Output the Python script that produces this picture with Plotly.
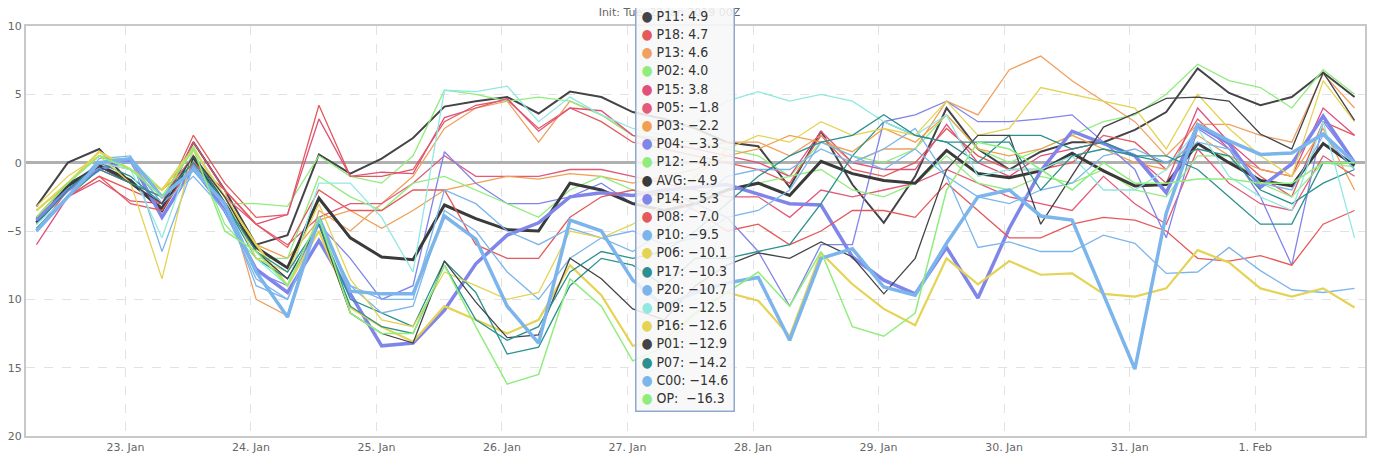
import pandas as pd
import plotly.graph_objects as go

# 6-hourly points, 22 Jan 07Z .. 1 Feb 19Z
times = pd.date_range("2019-01-22 07:00", periods=43, freq="6h")

tick_vals = ["2019-01-23", "2019-01-24", "2019-01-25", "2019-01-26", "2019-01-27",
             "2019-01-28", "2019-01-29", "2019-01-30", "2019-01-31", "2019-02-01"]
tick_text = ["23. Jan", "24. Jan", "25. Jan", "26. Jan", "27. Jan",
             "28. Jan", "29. Jan", "30. Jan", "31. Jan", "1. Feb"]

P11 = [-3.2, 0.0, 1.0, -1.5, -3.3, 1.5, -2.0, -6.0, -5.3, 0.6, -0.8, 0.3, 1.8, 4.1, 4.5, 4.8, 3.6, 5.2, 4.8, 3.7,
       3.2, 2.5, 1.5, 1.2, -1.8, 2.3, -1.6, -4.4, -1.0, 4.0, 1.0, -0.5, 0.8, 1.5, 1.5, 2.4, 3.7, 6.9, 5.1, 4.2, 4.8, 6.6, 4.8]
P18 = [-5.0, -2.5, -1.0, -2.0, -3.0, 2.0, -1.5, -4.0, -3.8, 4.2, -1.0, -1.0, -0.5, 3.0, 4.2, 4.6, 2.5, 4.0, 3.0, 1.5,
       1.0, 0.5, 0.0, -0.5, -1.5, 2.0, -0.5, -1.0, 0.0, 2.5, 0.5, -0.5, -0.5, 0.0, 2.0, 1.5, -0.5, 3.2, 1.0, -1.0, -2.5, 3.0, 2.0]
P13 = [-4.0, -1.5, 0.5, -0.5, -2.0, 0.0, -2.0, -10.0, -11.2, -3.5, -5.0, -3.0, -1.0, 2.5, 4.0, 4.5, 1.5, 4.5, 3.5, 2.0,
       1.5, 1.0, 1.5, 1.5, 0.5, 2.0, 0.0, 1.0, 1.0, 4.5, 3.5, 6.8, 7.8, 6.0, 4.5, 3.0, 0.5, 2.8, 2.8, 2.0, 1.5, 6.5, 4.0]
P02 = [-3.5, -1.5, 0.5, 0.2, -2.0, 1.2, -3.0, -3.0, -3.2, 0.5, -1.0, -1.5, 0.5, 5.3, 5.0, 4.5, 4.8, 4.5, 3.5, 2.0,
       1.8, 1.5, 1.0, 0.5, -1.0, 1.5, 0.5, 0.0, 1.0, 3.5, 1.0, 0.0, 1.0, 2.0, 3.0, 3.5, 5.0, 7.2, 6.0, 5.5, 4.0, 6.8, 5.0]
P15 = [-6.0, -2.5, -1.3, -2.8, -3.0, 1.5, -2.0, -4.5, -3.8, 3.2, -1.0, -0.7, -0.8, 3.3, 4.0, 4.7, 2.3, 4.0, 3.8, 2.0,
       1.5, 1.0, 0.5, 0.0, -1.0, 2.3, 0.0, -0.5, -0.5, 2.8, 0.0, -1.0, 0.5, 1.0, 1.5, 0.5, -1.5, 4.0, 1.5, -0.5, -1.0, 4.0, 2.0]
P05 = [-5.0, -2.0, -0.5, -1.5, -2.5, 0.5, -2.5, -4.5, -6.0, -4.0, -3.0, -3.0, -1.5, 0.5, -1.0, -1.0, -1.0, -0.5, -0.5, -1.0,
       -1.5, -2.0, -2.5, -2.5, -4.0, -2.0, -2.5, -2.0, -1.5, -0.5, -1.5, -2.5, -3.0, -3.5, -1.0, -3.0, -4.5, 1.0, -1.5, -3.0, -3.5, 0.5, -1.0]
P03 = [-4.0, -2.0, 0.0, -0.5, -2.0, 0.0, -3.0, -6.0, -7.0, -4.2, -3.5, -4.8, -3.5, -2.0, -1.5, -1.0, -1.2, -0.8, -1.0, -1.5,
       -1.0, -0.5, 0.5, 1.0, 2.0, 1.5, 0.8, 2.5, 1.5, 3.5, 1.0, 0.5, 1.0, 2.0, 1.0, 0.0, -0.5, 2.0, 0.5, -0.5, -1.0, 2.5, -2.0]
P04 = [-4.5, -2.0, 0.0, 0.0, -3.0, -0.5, -3.5, -8.0, -9.0, -4.5, -7.0, -10.0, -9.0, 0.8, -1.5, -3.0, -3.0, -2.5, -1.5, -3.0,
       -2.0, -3.0, -4.0, -6.5, -10.5, -6.0, -6.0, 3.0, 3.5, 4.5, 3.0, 3.0, 3.2, 3.5, 1.5, -0.5, -5.5, 2.5, 1.0, -2.5, -7.5, 3.0, 0.0]
P12 = [-3.5, -1.5, 0.5, 0.0, -2.5, 1.0, -4.5, -7.0, -7.0, -1.0, -2.5, -3.5, -1.5, -1.0, -2.0, -3.0, -4.0, -2.0, -1.0, -2.0,
       -3.0, -2.5, -2.0, -1.5, -1.0, -0.5, -2.0, -2.5, -1.5, 0.5, -1.5, -2.0, -1.0, -1.5, -0.5, -2.0, -2.5, 0.5, 0.5, -1.5, -2.5, 0.0, -0.3]
AVG = [-4.4, -1.7, -0.2, -1.3, -3.5, 0.4, -3.0, -6.2, -7.7, -2.6, -5.5, -6.9, -7.1, -3.1, -4.1, -4.9, -5.0, -1.5, -2.0, -3.0,
       -3.5, -3.0, -2.0, -1.5, -2.4, 0.1, -0.8, -1.3, -1.5, 0.9, -0.8, -1.1, -0.6, 0.7, -0.6, -1.7, -1.6, 1.4, 0.0, -1.3, -1.7, 1.4, -0.2]
P14 = [-4.2, -2.0, -0.5, 0.2, -4.0, -0.3, -3.5, -7.8, -9.5, -5.7, -9.6, -13.4, -13.2, -10.8, -7.4, -5.3, -4.4, -2.5, -2.2, -2.4,
       -2.0, -1.8, -1.6, -2.3, -3.0, -3.1, -6.9, -8.6, -9.6, -6.2, -9.9, -4.8, -0.6, 2.3, 1.4, 0.5, -2.2, 2.7, 1.4, -1.8, -0.1, 3.4, 0.0]
P08 = [-5.0, -2.5, -1.0, -3.0, -3.5, 0.0, -2.0, -4.5, -6.2, -2.0, -3.5, -3.5, -2.0, -2.0, -6.0, -7.0, -7.0, -4.0, -2.5, -2.0,
       -2.5, -3.5, -5.0, -4.5, -6.0, -5.0, -3.5, -3.5, -4.0, -1.5, -3.5, -5.5, -5.5, -4.5, -4.0, -4.2, -5.0, -7.0, -7.2, -6.8, -7.5, -4.5, -3.5]
P10 = [-5.0, -2.5, 0.3, 0.5, -6.5, -0.3, -3.0, -9.0, -10.0, -4.5, -9.0, -10.0, -10.0, -2.0, -3.0, -5.0, -6.0, -4.8, -5.5, -6.5,
       -5.0, -3.0, -1.0, -0.5, -0.5, 1.0, 0.0, 1.0, 2.5, -1.0, -6.2, -5.8, -6.5, -6.5, -5.3, -5.9, -8.1, -8.0, -6.2, -7.9, -9.3, -9.5, -9.2]
P06 = [-3.5, -1.5, 0.8, -0.5, -2.0, 1.0, -2.5, -6.0, -9.0, -5.0, -10.6, -12.0, -13.1, -10.5, -11.5, -12.5, -11.5, -7.5, -9.7, -13.4,
       -13.0, -11.0, -9.5, -10.1, -12.7, -6.6, -8.9, -10.7, -11.9, -7.0, -8.9, -7.2, -8.2, -8.1, -9.6, -9.8, -9.2, -6.4, -7.3, -9.2, -9.8, -9.2, -10.6]
P17 = [-4.5, -2.0, 0.0, -1.0, -3.0, 0.5, -3.0, -7.0, -8.5, -4.5, -10.0, -11.0, -12.0, -7.2, -9.5, -14.0, -13.5, -9.0, -7.0, -7.5,
       -9.0, -7.0, -7.0, -6.5, -6.0, -3.0, 0.5, 3.0, 2.0, 1.5, 0.0, 2.0, 2.0, 1.0, 1.5, 0.5, 0.0, 1.0, 0.5, -2.0, -3.0, -1.5, -0.5]
P20 = [-5.0, -2.5, 0.0, 0.0, -3.0, -1.0, -3.5, -8.5, -10.0, -4.5, -9.0, -11.0, -10.5, -3.5, -5.0, -8.0, -10.0, -7.0, -5.5, -5.0,
       -6.0, -5.5, -4.0, -3.5, -2.0, 1.5, 0.5, -0.5, 1.0, -1.0, -2.5, -3.0, -2.0, -1.5, 0.5, 1.0, 0.0, 1.5, 1.0, -1.5, -2.0, 2.0, -0.5]
P09 = [-4.5, -2.5, 0.0, -0.5, -5.5, 1.0, -2.5, -7.0, -9.0, -1.5, -1.5, -4.0, -8.0, 5.3, 5.2, 5.6, 3.0, 4.8, 3.5, 2.5,
       2.0, 3.0, 4.5, 5.2, 4.5, 5.0, 4.5, 3.0, 2.0, 3.5, -1.0, -0.5, -0.5, 0.5, -2.0, -2.0, -0.5, 2.5, -1.0, -2.5, -3.5, 3.0, -5.5]
P16 = [-3.2, -1.0, 0.5, -1.5, -8.5, 1.0, -2.5, -7.0, -8.0, -3.0, -8.5, -11.5, -12.0, -8.0, -9.0, -10.0, -9.5, -5.0, -5.5, -4.5,
       -3.0, -1.0, 1.0, 2.0, 1.5, 3.0, 2.0, 2.5, 2.0, 4.5, 2.0, 2.5, 5.5, 5.0, 4.5, 4.0, 1.0, 5.0, 2.5, 0.5, -1.0, 6.0, 3.0]
P01 = [-4.0, -1.5, -0.3, -1.5, -3.0, 0.5, -2.5, -6.5, -8.5, -4.5, -11.0, -12.5, -13.2, -7.2, -10.2, -12.8, -12.6, -7.0, -8.5, -10.7,
       -11.5, -9.0, -7.5, -6.6, -7.0, -5.8, -6.9, -9.6, -7.0, -0.5, 2.0, 2.0, -4.5, -1.0, 2.6, 3.6, 4.7, 4.8, 4.5, 2.1, 1.0, 6.6, 3.1]
P07 = [-4.8, -2.5, -0.5, -1.5, -2.5, 0.0, -3.0, -6.5, -8.0, -4.5, -10.5, -12.0, -12.5, -7.5, -11.5, -13.0, -12.0, -8.0, -6.5, -7.0,
       -6.5, -5.0, -3.0, -1.0, 0.5, 1.5, 2.0, 3.5, 2.0, 1.5, 1.5, 1.5, -2.0, 0.5, 1.0, 0.5, 0.5, -0.5, -2.5, -4.5, -4.5, 0.0, 0.0]
C00 = [-5.0, -2.5, 0.0, 0.3, -2.5, -0.5, -3.0, -8.0, -11.3, -4.0, -9.4, -9.6, -9.6, -3.9, -5.6, -10.5, -13.2, -4.2, -5.0, -8.6,
       -10.5, -9.5, -8.8, -8.4, -13.0, -7.0, -6.3, -9.1, -9.7, -5.9, -2.5, -2.0, -3.9, -4.2, -9.6, -15.1, -3.7, 2.8, 1.6, 0.6, 0.7, 2.1, 0.0]
OP = [-4.0, -1.5, 0.5, -0.5, -2.5, 1.0, -5.0, -6.5, -9.0, -4.0, -11.0, -12.5, -12.5, -7.5, -12.0, -16.2, -15.5, -8.5, -10.5, -14.5,
      -13.5, -11.0, -9.5, -8.0, -10.5, -6.5, -12.0, -12.7, -11.0, -2.0, 1.5, 1.0, -0.5, -2.0, 0.0, -1.5, -1.5, -1.2, -1.2, -1.5, -1.5, 0.0, 0.0]

# name, values, colour, width (tooltip order)
series = [
    ("P11", P11, "#434348", 2.0), ("P18", P18, "#e4595a", 1.3), ("P13", P13, "#f0a060", 1.3),
    ("P02", P02, "#90ed7d", 1.3), ("P15", P15, "#e0507a", 1.3), ("P05", P05, "#e45a7a", 1.3),
    ("P03", P03, "#f0a050", 1.3), ("P04", P04, "#8085e9", 1.3), ("P12", P12, "#90ed7d", 1.3),
    ("AVG", AVG, "#3a3a3a", 3.0), ("P14", P14, "#8085e9", 3.5), ("P08", P08, "#e4595a", 1.3),
    ("P10", P10, "#7cb5ec", 1.3), ("P06", P06, "#e4d354", 2.2), ("P17", P17, "#2b908f", 1.3),
    ("P20", P20, "#7cb5ec", 1.3), ("P09", P09, "#91e8e1", 1.3), ("P16", P16, "#e4d354", 1.3),
    ("P01", P01, "#434348", 1.3), ("P07", P07, "#2b908f", 1.3), ("C00", C00, "#7cb5ec", 3.5),
    ("OP", OP, "#90ed7d", 1.5),
]
tip_vals = ["4.9", "4.7", "4.6", "4.0", "3.8", "\u22121.8", "\u22122.2", "\u22123.3", "\u22124.5", "\u22124.9",
            "\u22125.3", "\u22127.0", "\u22129.5", "\u221210.1", "\u221210.3", "\u221210.7", "\u221212.5",
            "\u221212.6", "\u221212.9", "\u221214.2", "\u221214.6", "\u221216.3"]

fig = go.Figure()
for name, vals, col, w in series:
    fig.add_trace(go.Scatter(x=times, y=vals, mode="lines", name=name,
                             line=dict(color=col, width=w), showlegend=False))

lines = ["<span style='color:#e45a7a'>\u25cf</span> P19: 5.3"]
for (name, vals, col, w), v in zip(series, tip_vals):
    sep = ":  " if name == "OP" else (":" if name == "AVG" else ": ")
    lines.append(f"<span style='color:{col}'>\u25cf</span> {name}{sep}{v}")

fig.add_annotation(text="<br>".join(lines), xref="paper", yref="paper",
                   x=0.455, y=1.105, xanchor="left", yanchor="top", align="left",
                   showarrow=False,
                   font=dict(family="DejaVu Sans Condensed", size=14, color="#333"),
                   bgcolor="rgba(247,247,247,0.88)", bordercolor="#8fa8d0", borderwidth=1.5,
                   borderpad=5)

fig.update_layout(
    width=1378, height=455,
    margin=dict(l=18, r=21, t=18, b=27),
    plot_bgcolor="white", paper_bgcolor="white",
    title=dict(text="Init: Tue, 22 Jan 2019 00Z", x=0.48, y=1.0, yanchor="top",
               font=dict(family="DejaVu Sans", size=11, color="#666")),
    font=dict(family="DejaVu Sans", size=11, color="#666"),
    xaxis=dict(range=[times[0] - pd.Timedelta(hours=2), times[-1] + pd.Timedelta(hours=2)],
               tickvals=tick_vals, ticktext=tick_text, showgrid=True, gridcolor="#e2e2e2",
               griddash="dash", showline=True, linecolor="#c8c8c8", linewidth=2, mirror=True,
               ticks="", zeroline=False, automargin=False),
    yaxis=dict(range=[-20, 10], dtick=5, showgrid=True, gridcolor="#e2e2e2", griddash="dash",
               showline=True, linecolor="#c8c8c8", linewidth=2, mirror=True, automargin=False,
               zeroline=True, zerolinecolor="#b0b0b0", zerolinewidth=3, ticks=""),
)

fig.write_html("out.html")
